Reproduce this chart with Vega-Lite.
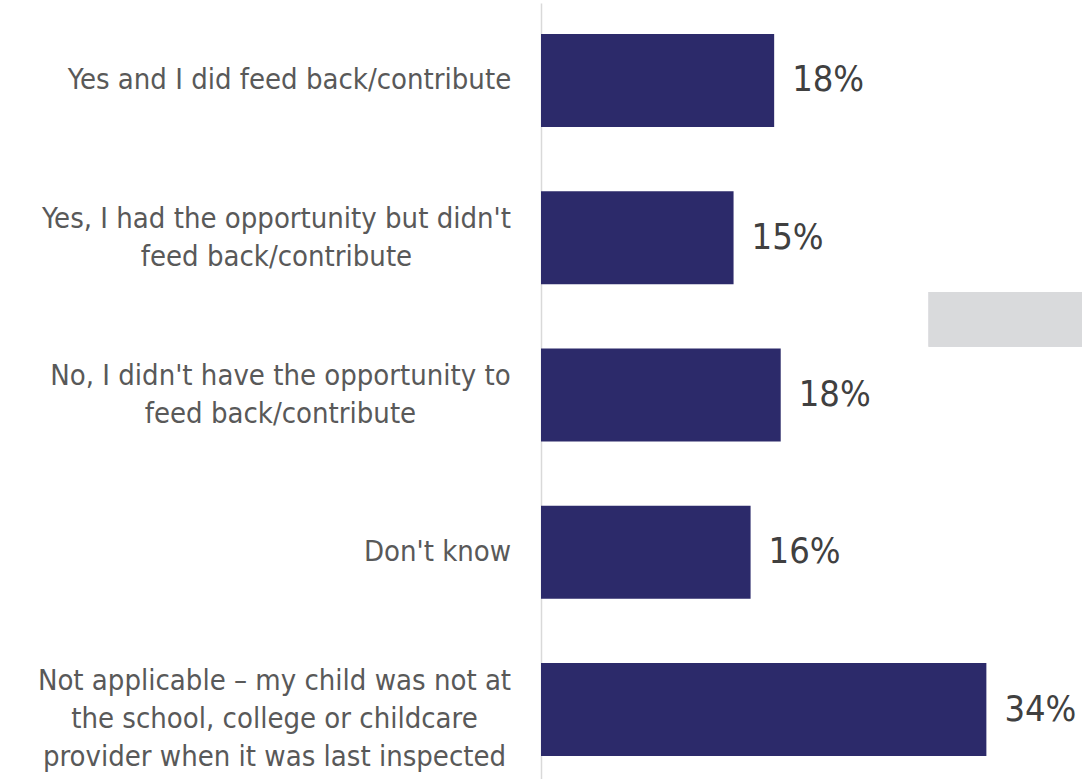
{
  "$schema": "https://vega.github.io/schema/vega-lite/v6.json",
  "autosize": "none",
  "padding": {"left": 541, "top": 3, "right": 0, "bottom": 0},
  "width": 541,
  "height": 784,
  "background": "white",
  "config": {"view": {"stroke": null}},
  "data": {
    "values": [
      {"response": "Yes and I did feed back/contribute", "share": 0.178},
      {"response": "Yes, I had the opportunity but didn't\nfeed back/contribute", "share": 0.147},
      {"response": "No, I didn't have the opportunity to\nfeed back/contribute", "share": 0.183},
      {"response": "Don't know", "share": 0.160},
      {"response": "Not applicable \u2013 my child was not at\nthe school, college or childcare\nprovider when it was last inspected", "share": 0.340}
    ]
  },
  "encoding": {
    "y": {
      "field": "response",
      "type": "nominal",
      "sort": null,
      "scale": {"paddingInner": 0.409, "paddingOuter": 0.197},
      "axis": {
        "title": null,
        "ticks": false,
        "domainColor": "#D9D9D9",
        "domainWidth": 1.5,
        "labelExpr": "split(datum.label, '\\n')",
        "labelFont": "DejaVu Sans Condensed, DejaVu Sans",
        "labelFontSize": 29,
        "labelLineHeight": 38,
        "labelColor": "#595959",
        "labelLimit": 0,
        "labelAlign": "center",
        "labelBaseline": "middle",
        "labelPadding": {
          "condition": [
            {"test": "indexof(datum.value, 'Yes and') == 0", "value": 252},
            {"test": "indexof(datum.value, 'Yes, I had') == 0", "value": 265},
            {"test": "indexof(datum.value, 'No, I') == 0", "value": 261},
            {"test": "indexof(datum.value, 'Don') == 0", "value": 104}
          ],
          "value": 267
        },
        "labelOffset": {
          "condition": [
            {"test": "indexof(datum.value, 'Not applicable') == 0", "value": -29},
            {"test": "indexof(datum.value, '\\n') >= 0", "value": -19}
          ],
          "value": 0
        }
      }
    }
  },
  "layer": [
    {
      "mark": {"type": "bar", "color": "#2C2A6A"},
      "encoding": {
        "x": {"field": "share", "type": "quantitative", "scale": {"domain": [0, 0.413], "nice": false}, "axis": null}
      }
    },
    {
      "mark": {"type": "text", "align": "left", "baseline": "middle", "dx": 18, "font": "DejaVu Sans Condensed, DejaVu Sans", "fontSize": 36, "color": "#404040"},
      "encoding": {
        "x": {"field": "share", "type": "quantitative"},
        "text": {"field": "share", "type": "quantitative", "format": ".0%"}
      }
    },
    {
      "mark": {"type": "rect", "color": "#D9DADC"},
      "encoding": {
        "x": {"datum": 0.296},
        "x2": {"datum": 0.413},
        "y": {"datum": "Yes, I had the opportunity but didn't\nfeed back/contribute", "type": "nominal", "bandPosition": 1.085},
        "y2": {"datum": "No, I didn't have the opportunity to\nfeed back/contribute", "bandPosition": -0.02}
      }
    }
  ]
}
